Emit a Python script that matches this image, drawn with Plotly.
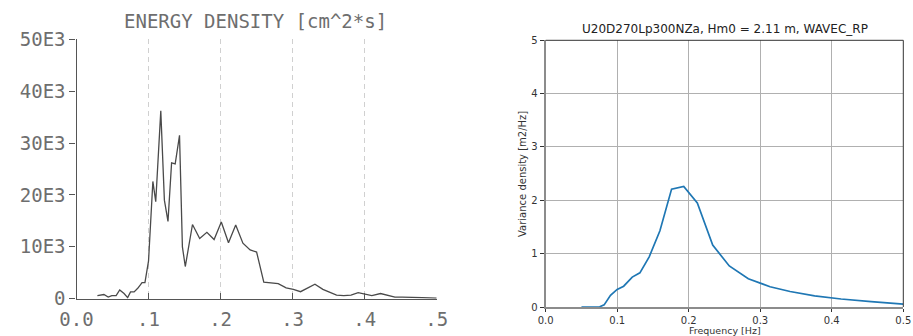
import plotly.graph_objects as go

# ---- Left panel: scanned energy density spectrum (values in thousands, E3) ----
left_freq = [0.029, 0.038, 0.044, 0.049, 0.055, 0.060, 0.066, 0.071, 0.075, 0.080,
             0.085, 0.091, 0.095, 0.100, 0.106, 0.110, 0.117, 0.122, 0.127, 0.132,
             0.137, 0.143, 0.147, 0.151, 0.161, 0.171, 0.181, 0.191, 0.201, 0.211,
             0.221, 0.231, 0.241, 0.250, 0.260, 0.270, 0.280, 0.291, 0.301, 0.311,
             0.321, 0.331, 0.342, 0.351, 0.361, 0.371, 0.381, 0.391, 0.400, 0.410,
             0.422, 0.432, 0.442, 0.452, 0.462, 0.471, 0.480, 0.490, 0.500]
left_energy_k = [0.6, 0.8, 0.3, 0.6, 0.6, 1.7, 1.0, 0.2, 1.3, 1.3,
                 2.0, 3.1, 3.1, 7.3, 22.6, 18.7, 36.2, 19.0, 14.9, 26.2,
                 26.0, 31.5, 10.0, 6.2, 14.3, 11.6, 12.8, 11.4, 14.8, 10.8,
                 14.2, 10.7, 9.4, 9.0, 3.2, 3.0, 2.9, 2.1, 1.8, 1.35,
                 2.1, 2.8, 1.8, 1.3, 0.7, 0.6, 0.7, 1.15, 0.95, 0.6,
                 1.0, 0.6, 0.3, 0.3, 0.3, 0.2, 0.2, 0.15, 0.1]
left_xticks = [0.0, 0.1, 0.2, 0.3, 0.4, 0.5]
left_xticktext = ["0.0", ".1", ".2", ".3", ".4", ".5"]
left_yticks = [0, 10, 20, 30, 40, 50]
left_yticktext = ["0", "10E3", "20E3", "30E3", "40E3", "50E3"]
left_title = "ENERGY DENSITY [cm^2*s]"

# ---- Right panel: modelled variance density spectrum ----
right_freq = [0.050, 0.0756, 0.0817, 0.0906, 0.0999, 0.109, 0.121, 0.1317, 0.1447,
              0.1597, 0.176, 0.193, 0.212, 0.2335, 0.2567, 0.2833, 0.3137, 0.3417,
              0.376, 0.413, 0.455, 0.500]
right_var = [0.0, 0.005, 0.04, 0.22, 0.33, 0.39, 0.56, 0.64, 0.94,
             1.43, 2.21, 2.26, 1.95, 1.16, 0.77, 0.53, 0.38, 0.29,
             0.21, 0.15, 0.10, 0.055]
right_title = "U20D270Lp300NZa, Hm0 = 2.11 m, WAVEC_RP"
right_xlabel = "Frequency [Hz]"
right_ylabel = "Variance density [m2/Hz]"

W, H = 913, 336
mono = "DejaVu Sans Mono"
scan_grey = "#6e6e6e"

fig = go.Figure()
fig.add_trace(go.Scatter(x=left_freq, y=left_energy_k, xaxis="x", yaxis="y",
                         mode="lines", line=dict(color="#4a4a4a", width=1.3),
                         hoverinfo="skip"))
fig.add_trace(go.Scatter(x=right_freq, y=right_var, xaxis="x2", yaxis="y2",
                         mode="lines", line=dict(color="#1f77b4", width=1.7),
                         hoverinfo="skip"))

fig.update_layout(
    width=W, height=H,
    margin=dict(l=0, r=0, t=0, b=0, autoexpand=False),
    paper_bgcolor="white", plot_bgcolor="white",
    showlegend=False,
    xaxis=dict(domain=[76.5 / W, 436.7 / W], range=[0, 0.5], anchor="y",
               automargin=False,
               tickvals=left_xticks, ticktext=left_xticktext,
               showgrid=True, gridcolor="#d0d0d0", gridwidth=1.3, griddash="5px,4px",
               ticks="inside", ticklen=6, tickcolor="#555", tickwidth=1.2,
               showline=True, linecolor="#555", linewidth=1.3, zeroline=False,
               tickfont=dict(family=mono, size=19, color=scan_grey),
               ticklabelstandoff=3),
    yaxis=dict(domain=[(H - 298.7) / H, (H - 39.3) / H], range=[0, 50], anchor="x",
               automargin=False,
               tickvals=left_yticks, ticktext=left_yticktext,
               showgrid=False, zeroline=False,
               ticks="outside", ticklen=6, tickcolor="#555", tickwidth=1.2,
               showline=True, linecolor="#555", linewidth=1.3,
               tickfont=dict(family=mono, size=19, color=scan_grey)),
    xaxis2=dict(domain=[545.7 / W, 903.3 / W], range=[0, 0.5], anchor="y2",
                automargin=False,
                dtick=0.1, tickformat=".1f",
                showgrid=True, gridcolor="#b0b0b0", gridwidth=1,
                ticks="outside", ticklen=3, tickcolor="#333",
                showline=True, linecolor="#8c8c8c", linewidth=2, zeroline=False,
                tickfont=dict(family="DejaVu Sans", size=10, color="#333")),
    yaxis2=dict(domain=[29 / H, 295.7 / H], range=[0, 5], anchor="x2",
                automargin=False,
                dtick=1,
                showgrid=True, gridcolor="#b0b0b0", gridwidth=1,
                ticks="outside", ticklen=4, tickcolor="#333",
                showline=True, linecolor="#8c8c8c", linewidth=2, zeroline=False,
                tickfont=dict(family="DejaVu Sans", size=10, color="#333")),
    shapes=[
        dict(type="line", xref="x2 domain", yref="y2 domain", x0=0, x1=1, y0=1, y1=1,
             line=dict(color="#333", width=1)),
        dict(type="line", xref="x2 domain", yref="y2 domain", x0=1, x1=1, y0=0, y1=1,
             line=dict(color="#333", width=1)),
    ],
    annotations=[
        dict(text=left_title, xref="paper", yref="paper", x=255.5 / W, y=1 - 21 / H,
             xanchor="center", yanchor="middle", showarrow=False,
             font=dict(family=mono, size=19, color=scan_grey)),
        dict(text=right_title, xref="paper", yref="paper", x=724.5 / W, y=1 - 29 / H,
             xanchor="center", yanchor="middle", showarrow=False,
             font=dict(family="DejaVu Sans", size=12, color="#222")),
        dict(text=right_ylabel, xref="paper", yref="paper", x=522 / W, y=1 - 174 / H,
             xanchor="center", yanchor="middle", showarrow=False, textangle=-90,
             font=dict(family="DejaVu Sans", size=10, color="#333")),
        dict(text=right_xlabel, xref="paper", yref="paper", x=724.5 / W, y=1 - 330.5 / H,
             xanchor="center", yanchor="middle", showarrow=False,
             font=dict(family="DejaVu Sans", size=9.5, color="#333")),
    ],
)

fig.write_html("out.html")
